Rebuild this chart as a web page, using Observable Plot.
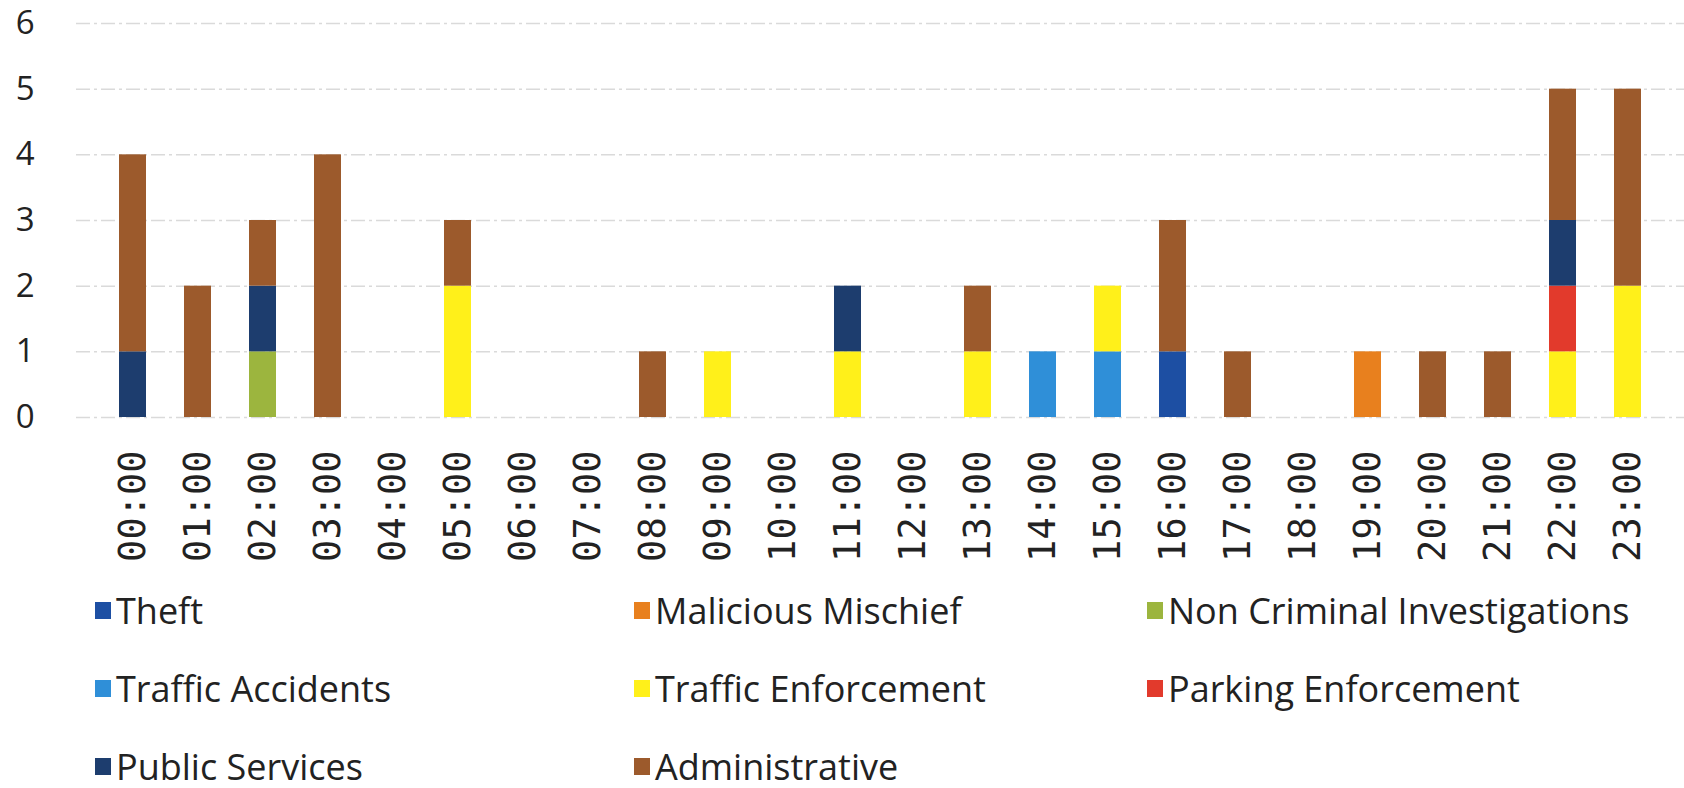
<!DOCTYPE html>
<html>
<head>
<meta charset="utf-8">
<script src="https://cdn.jsdelivr.net/npm/d3@7"></script>
<script src="https://cdn.jsdelivr.net/npm/@observablehq/plot@0.6"></script>
<style>
  html, body { margin: 0; padding: 0; background: #fff; }
  #chart { width: 1684px; }
  #legend {
    position: relative; width: 1684px; height: 213px;
    font-family: "Open Sans", "Noto Sans", sans-serif; font-size: 36px; color: #222;
  }
  .item { position: absolute; display: flex; align-items: center; white-space: nowrap; }
  .sw { width: 16px; height: 17px; margin-right: 5px; display: inline-block; }
</style>
</head>
<body>
<div id="chart"></div>
<div id="legend"></div>
<script>
const hours = ["00:00","01:00","02:00","03:00","04:00","05:00","06:00","07:00","08:00","09:00","10:00","11:00",
               "12:00","13:00","14:00","15:00","16:00","17:00","18:00","19:00","20:00","21:00","22:00","23:00"];
const series = ["Theft","Malicious Mischief","Non Criminal Investigations","Traffic Accidents",
                "Traffic Enforcement","Parking Enforcement","Public Services","Administrative"];
const colors = ["#1d4fa3","#e8801e","#9cb53e","#2f8fd8","#fff01a","#e23a2c","#1d3d6e","#9c5a2c"];

// counts per hour (00:00 ... 23:00)
const theft          = [0,0,0,0,0,0,0,0,0,0,0,0, 0,0,0,0,1,0,0,0,0,0,0,0];
const maliciousMisc  = [0,0,0,0,0,0,0,0,0,0,0,0, 0,0,0,0,0,0,0,1,0,0,0,0];
const nonCriminal    = [0,0,1,0,0,0,0,0,0,0,0,0, 0,0,0,0,0,0,0,0,0,0,0,0];
const trafficAcc     = [0,0,0,0,0,0,0,0,0,0,0,0, 0,0,1,1,0,0,0,0,0,0,0,0];
const trafficEnf     = [0,0,0,0,0,2,0,0,0,1,0,1, 0,1,0,1,0,0,0,0,0,0,1,2];
const parkingEnf     = [0,0,0,0,0,0,0,0,0,0,0,0, 0,0,0,0,0,0,0,0,0,0,1,0];
const publicServices = [1,0,1,0,0,0,0,0,0,0,0,1, 0,0,0,0,0,0,0,0,0,0,1,0];
const administrative = [3,2,1,4,0,1,0,0,1,0,0,0, 0,1,0,0,2,1,0,0,1,1,2,3];

const yTicks = [0,1,2,3,4,5,6];

const seriesValues = [theft, maliciousMisc, nonCriminal, trafficAcc, trafficEnf, parkingEnf, publicServices, administrative];
const rows = [];
series.forEach((s, si) => hours.forEach((h, hi) => {
  if (seriesValues[si][hi] > 0) rows.push({hour: h, type: s, value: seriesValues[si][hi]});
}));

const plot = Plot.plot({
  width: 1684,
  height: 575,
  marginTop: 23,
  marginBottom: 158,
  marginLeft: 76,
  marginRight: 0,
  style: {background: "#fff", color: "#222"},
  x: {domain: hours, padding: 0.58, label: null},
  y: {domain: [0, 6], label: null},
  color: {domain: series, range: colors},
  marks: [
    Plot.ruleY(yTicks, {stroke: "#dadada", strokeWidth: 1.5, strokeDasharray: "14,4,3,4"}),
    Plot.barY(rows, Plot.stackY({order: series, x: "hour", y: "value", fill: "type"})),
    Plot.axisY({ticks: yTicks, tickFormat: d3.format("d"), tickSize: 0, tickPadding: 42, fontSize: 33, fontFamily: "Open Sans, sans-serif", label: null}),
    Plot.axisX({tickSize: 0, tickRotate: -90, tickPadding: 33, fontSize: 37, fontFamily: "DejaVu Sans Mono, monospace", label: null})
  ]
});
document.getElementById("chart").appendChild(plot);

// legend
const legendPos = [[95,612],[634,612],[1147,612],[95,690],[634,690],[1147,690],[95,768],[634,768]];
const leg = document.getElementById("legend");
series.forEach((s, i) => {
  const d = document.createElement("div");
  d.className = "item";
  d.style.left = legendPos[i][0] + "px";
  d.style.top = (legendPos[i][1] - 575 - 26) + "px";
  d.innerHTML = `<span class="sw" style="background:${colors[i]}"></span><span>${s}</span>`;
  leg.appendChild(d);
});
</script>
</body>
</html>
